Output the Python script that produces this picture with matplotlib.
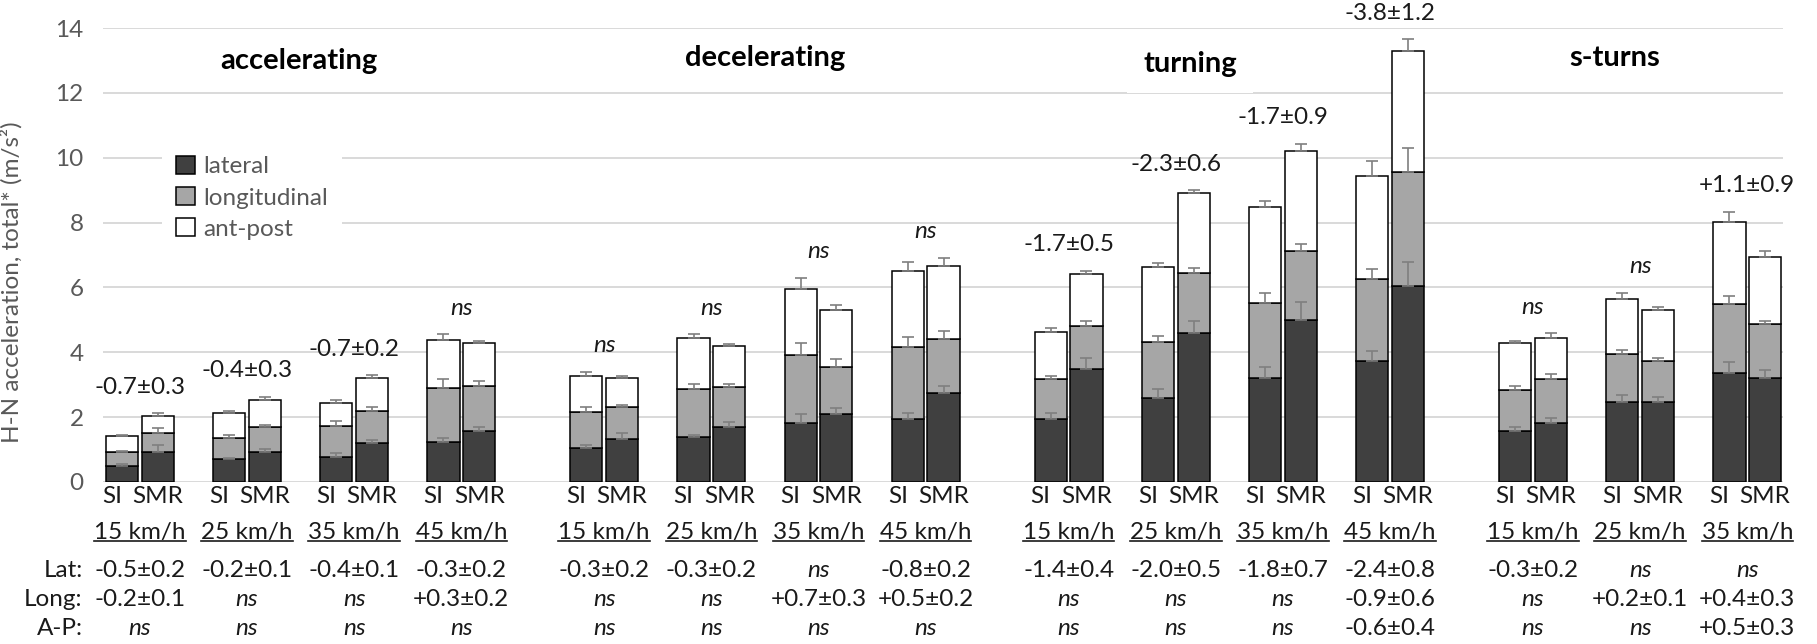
import numpy as np
import matplotlib.pyplot as plt
from matplotlib.lines import Line2D

plt.rcParams['font.family'] = ['Lato', 'DejaVu Sans']

maneuvers = ["accelerating", "decelerating", "turning", "s-turns"]
speeds = [["15", "25", "35", "45"], ["15", "25", "35", "45"],
          ["15", "25", "35", "45"], ["15", "25", "35"]]
devices = ["SI", "SMR"]

# one value per bar, bars ordered SI, SMR within each speed group
lateral = [0.50, 0.93, 0.70, 0.93, 0.78, 1.19, 1.22, 1.58,
           1.06, 1.34, 1.38, 1.71, 1.83, 2.09, 1.94, 2.73,
           1.94, 3.48, 2.58, 4.60, 3.22, 4.99, 3.73, 6.05,
           1.58, 1.81, 2.46, 2.46, 3.35, 3.22]
longitudinal = [0.43, 0.59, 0.67, 0.77, 0.96, 1.01, 1.67, 1.38,
                1.11, 0.96, 1.48, 1.23, 2.09, 1.47, 2.23, 1.69,
                1.23, 1.34, 1.73, 1.85, 2.31, 2.13, 2.52, 3.52,
                1.26, 1.36, 1.49, 1.27, 2.14, 1.65]
antpost = [0.49, 0.52, 0.77, 0.83, 0.71, 1.00, 1.49, 1.32,
           1.11, 0.90, 1.57, 1.25, 2.02, 1.74, 2.35, 2.25,
           1.45, 1.58, 2.33, 2.45, 2.96, 3.08, 3.20, 3.72,
           1.44, 1.26, 1.69, 1.57, 2.54, 2.08]
lat_err = [0.04, 0.20, 0.05, 0.08, 0.10, 0.10, 0.15, 0.10,
           0.08, 0.16, 0.07, 0.15, 0.26, 0.20, 0.20, 0.23,
           0.20, 0.35, 0.28, 0.37, 0.34, 0.55, 0.31, 0.74,
           0.12, 0.17, 0.23, 0.17, 0.36, 0.22]
long_err = [0.04, 0.13, 0.08, 0.06, 0.15, 0.10, 0.28, 0.16,
            0.15, 0.07, 0.15, 0.07, 0.36, 0.23, 0.29, 0.24,
            0.10, 0.15, 0.19, 0.15, 0.29, 0.23, 0.33, 0.72,
            0.12, 0.16, 0.12, 0.10, 0.25, 0.10]
ap_err = [0.04, 0.08, 0.06, 0.10, 0.08, 0.10, 0.17, 0.07,
          0.12, 0.08, 0.12, 0.08, 0.36, 0.16, 0.27, 0.25,
          0.12, 0.12, 0.12, 0.10, 0.17, 0.23, 0.44, 0.36,
          0.07, 0.15, 0.20, 0.10, 0.31, 0.17]

# SMR - SI differences, one per speed group
total_diff = ["-0.7±0.3", "-0.4±0.3", "-0.7±0.2", "ns",
              "ns", "ns", "ns", "ns",
              "-1.7±0.5", "-2.3±0.6", "-1.7±0.9", "-3.8±1.2",
              "ns", "ns", "+1.1±0.9"]
lat_diff = ["-0.5±0.2", "-0.2±0.1", "-0.4±0.1", "-0.3±0.2",
            "-0.3±0.2", "-0.3±0.2", "ns", "-0.8±0.2",
            "-1.4±0.4", "-2.0±0.5", "-1.8±0.7", "-2.4±0.8",
            "-0.3±0.2", "ns", "ns"]
long_diff = ["-0.2±0.1", "ns", "ns", "+0.3±0.2",
             "ns", "ns", "+0.7±0.3", "+0.5±0.2",
             "ns", "ns", "ns", "-0.9±0.6",
             "ns", "+0.2±0.1", "+0.4±0.3"]
ap_diff = ["ns", "ns", "ns", "ns",
           "ns", "ns", "ns", "ns",
           "ns", "ns", "ns", "-0.6±0.4",
           "ns", "ns", "+0.5±0.3"]

colors = ["#404040", "#a6a6a6", "white"]
names = ["lateral", "longitudinal", "ant-post"]
gray = "#595959"
fs = 17.5

# slot layout like the Excel sheet: SI, SMR, blank per speed, one extra blank per maneuver
group_x = []
for m, sp in enumerate(speeds):
    for g in range(len(sp)):
        group_x.append(13 * m + 3 * g)
group_x = np.array(group_x, dtype=float)
bar_x = np.ravel(np.column_stack([group_x, group_x + 1]))

lateral = np.array(lateral)
longitudinal = np.array(longitudinal)
antpost = np.array(antpost)

fig = plt.figure(figsize=(18.17, 6.44), dpi=100)
ax = fig.add_axes([0.0567, 0.2516, 0.9246, 0.7049])

w = 0.9
bottoms = [np.zeros(len(bar_x)), lateral, lateral + longitudinal]
handles = []
for seg, bot, col, name in zip([lateral, longitudinal, antpost], bottoms, colors, names):
    h = ax.bar(bar_x, seg, w, bottom=bot, color=col, edgecolor="black",
               linewidth=1.1, label=name, zorder=3)
    handles.append(h)

for top, err in zip([lateral, lateral + longitudinal, lateral + longitudinal + antpost],
                    [lat_err, long_err, ap_err]):
    err = np.array(err)
    ax.errorbar(bar_x, top, yerr=[np.zeros_like(err), err], fmt="none",
                ecolor="#7f7f7f", elinewidth=1.2, capsize=4, capthick=1.2, zorder=4)

total = lateral + longitudinal + antpost + np.array(ap_err)
group_top = total.reshape(-1, 2).max(axis=1)
for x, t, s in zip(group_x, group_top, total_diff):
    ax.text(x + 0.5, t + 0.8, s, ha="center", va="center", fontsize=fs,
            style="italic" if s == "ns" else "normal", color="#1a1a1a",
            clip_on=False, zorder=5)

ax.set_xlim(-0.53, 46.5)
ax.set_ylim(0, 14)
ax.set_yticks(np.arange(0, 15, 2))
ax.tick_params(axis="y", length=0, pad=14, labelsize=fs, labelcolor=gray)
ax.set_xticks(bar_x)
ax.set_xticklabels(devices * len(group_x))
ax.tick_params(axis="x", length=0, pad=3, labelsize=fs, labelcolor="#1a1a1a")
for lab in ax.get_xticklabels()[0::2]:
    lab.set_horizontalalignment("right")
    lab.set_x(lab.get_position()[0])
ax.grid(axis="y", color="#d9d9d9", linewidth=1.4, zorder=0)
ax.set_axisbelow(True)
for sp in ax.spines.values():
    sp.set_visible(False)

ax.set_ylabel("H-N acceleration, total* (m/s²)", fontsize=fs, color=gray)
ax.yaxis.set_label_coords(-0.0476, 0.44)

title_pos = [(4.96, 12.98, True), (18.0, 13.07, False), (29.9, 12.9, True), (41.8, 13.07, False)]
for name, (tx, ty, boxed) in zip(maneuvers, title_pos):
    box = dict(facecolor="white", edgecolor="none", pad=12) if boxed else None
    ax.text(tx, ty, name, ha="center", va="center", fontsize=21,
            fontweight="bold", color="black", bbox=box, zorder=2)

leg = ax.legend(handles=handles, loc="upper left", bbox_to_anchor=(0.035, 0.75),
                frameon=True, facecolor="white", edgecolor="none", framealpha=1,
                fontsize=fs, handlelength=0.75, handleheight=0.75, handletextpad=0.35,
                labelspacing=0.4, borderpad=0.6, borderaxespad=0)
for t in leg.get_texts():
    t.set_color(gray)

# speed labels and the difference table below the axis
speed_texts = []
flat_speeds = [s for sp in speeds for s in sp]
for x, s in zip(group_x, flat_speeds):
    t = ax.text(x + 0.5, -1.57, s + " km/h", ha="center", va="center",
                fontsize=fs, color="#1a1a1a", clip_on=False)
    speed_texts.append(t)

rows = [("Lat:", lat_diff, -2.74), ("Long:", long_diff, -3.64), ("A-P:", ap_diff, -4.53)]
for label, vals, y in rows:
    ax.text(-1.1, y, label, ha="right", va="center", fontsize=fs,
            color="#1a1a1a", clip_on=False)
    for x, s in zip(group_x, vals):
        ax.text(x + 0.5, y, s, ha="center", va="center", fontsize=fs,
                style="italic" if s == "ns" else "normal", color="#1a1a1a",
                clip_on=False)

fig.canvas.draw()
inv = fig.transFigure.inverted()
for t in speed_texts:
    bb = t.get_window_extent()
    (x0, y0), (x1, _) = inv.transform([(bb.x0, bb.y0 + 2), (bb.x1, bb.y1)])
    fig.add_artist(Line2D([x0, x1], [y0, y0], color="#1a1a1a", linewidth=1.2,
                          transform=fig.transFigure))

fig.savefig("out.png", dpi=100)
